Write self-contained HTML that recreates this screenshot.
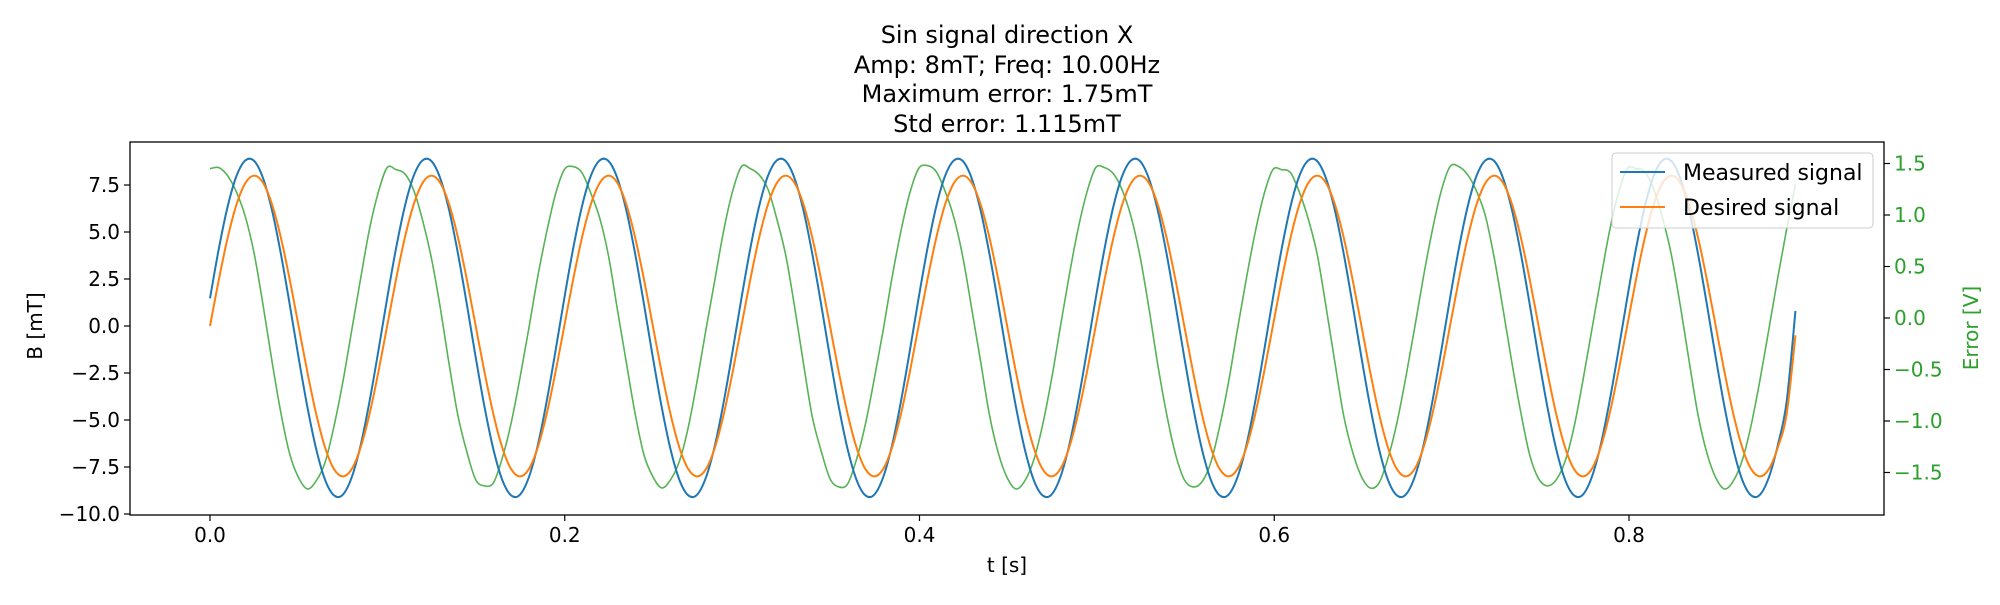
<!DOCTYPE html>
<html><head><meta charset="utf-8"><style>
body{margin:0;background:#fff}
svg text{font-family:"DejaVu Sans","Liberation Sans",sans-serif}
</style></head><body>
<svg id="chart" width="2000" height="600" viewBox="0 0 2000 600" xmlns="http://www.w3.org/2000/svg">
<g font-size="24" text-anchor="middle" fill="#000">
<text x="1007" y="43">Sin signal direction X</text>
<text x="1007" y="73">Amp: 8mT; Freq: 10.00Hz</text>
<text x="1007" y="102">Maximum error: 1.75mT</text>
<text x="1007" y="132">Std error: 1.115mT</text>
</g>
<g id="plot"></g>
<rect x="130" y="142" width="1754" height="373" fill="none" stroke="#000" stroke-width="1.3"/>
<g id="axes" font-size="20"></g>
<text x="1007" y="572" font-size="20" text-anchor="middle">t [s]</text>
<text transform="translate(42,326) rotate(-90)" font-size="20" text-anchor="middle">B [mT]</text>
<text transform="translate(1978,328) rotate(-90)" font-size="20" text-anchor="middle" fill="#2ca02c">Error [V]</text>
<g>
<rect x="1612" y="153" width="261" height="75" rx="4" fill="#fff" fill-opacity="0.8" stroke="#ccc"/>
<line x1="1620" y1="172" x2="1665" y2="172" stroke="#1f77b4" stroke-width="2"/>
<text x="1683" y="180" font-size="22">Measured signal</text>
<line x1="1620" y1="207" x2="1665" y2="207" stroke="#ff7f0e" stroke-width="2"/>
<text x="1683" y="215" font-size="22">Desired signal</text>
</g>
</svg>
<script>
const dt = 0.005;
const xTicks = [0.0, 0.2, 0.4, 0.6, 0.8];
const xTickLabels = ["0.0", "0.2", "0.4", "0.6", "0.8"];
const yTicks = [-10, -7.5, -5, -2.5, 0, 2.5, 5, 7.5];
const yTickLabels = ["\u221210.0", "\u22127.5", "\u22125.0", "\u22122.5", "0.0", "2.5", "5.0", "7.5"];
const y2Ticks = [-1.5, -1, -0.5, 0, 0.5, 1, 1.5];
const y2TickLabels = ["\u22121.5", "\u22121.0", "\u22120.5", "0.0", "0.5", "1.0", "1.5"];
const desired = [
0,2.47,4.70,6.47,7.61,8,7.61,6.47,4.70,2.47,0,-2.47,-4.70,-6.47,-7.61,-8,-7.61,-6.47,-4.70,-2.47,
0,2.47,4.70,6.47,7.61,8,7.61,6.47,4.70,2.47,0,-2.47,-4.70,-6.47,-7.61,-8,-7.61,-6.47,-4.70,-2.47,
0,2.47,4.70,6.47,7.61,8,7.61,6.47,4.70,2.47,0,-2.47,-4.70,-6.47,-7.61,-8,-7.61,-6.47,-4.70,-2.47,
0,2.47,4.70,6.47,7.61,8,7.61,6.47,4.70,2.47,0,-2.47,-4.70,-6.47,-7.61,-8,-7.61,-6.47,-4.70,-2.47,
0,2.47,4.70,6.47,7.61,8,7.61,6.47,4.70,2.47,0,-2.47,-4.70,-6.47,-7.61,-8,-7.61,-6.47,-4.70,-2.47,
0,2.47,4.70,6.47,7.61,8,7.61,6.47,4.70,2.47,0,-2.47,-4.70,-6.47,-7.61,-8,-7.61,-6.47,-4.70,-2.47,
0,2.47,4.70,6.47,7.61,8,7.61,6.47,4.70,2.47,0,-2.47,-4.70,-6.47,-7.61,-8,-7.61,-6.47,-4.70,-2.47,
0,2.47,4.70,6.47,7.61,8,7.61,6.47,4.70,2.47,0,-2.47,-4.70,-6.47,-7.61,-8,-7.61,-6.47,-4.70,-2.47,
0,2.47,4.70,6.47,7.61,8,7.61,6.47,4.70,2.47,0,-2.47,-4.70,-6.47,-7.61,-8,-7.61,-6.47,-4.70,-0.5];
const measured = [
1.47,4.12,6.37,7.99,8.81,8.77,7.85,6.16,3.84,1.15,-1.67,-4.32,-6.57,-8.19,-9.01,-8.97,-8.05,-6.36,-4.04,-1.35,
1.47,4.12,6.37,7.99,8.81,8.77,7.85,6.16,3.84,1.15,-1.67,-4.32,-6.57,-8.19,-9.01,-8.97,-8.05,-6.36,-4.04,-1.35,
1.47,4.12,6.37,7.99,8.81,8.77,7.85,6.16,3.84,1.15,-1.67,-4.32,-6.57,-8.19,-9.01,-8.97,-8.05,-6.36,-4.04,-1.35,
1.47,4.12,6.37,7.99,8.81,8.77,7.85,6.16,3.84,1.15,-1.67,-4.32,-6.57,-8.19,-9.01,-8.97,-8.05,-6.36,-4.04,-1.35,
1.47,4.12,6.37,7.99,8.81,8.77,7.85,6.16,3.84,1.15,-1.67,-4.32,-6.57,-8.19,-9.01,-8.97,-8.05,-6.36,-4.04,-1.35,
1.47,4.12,6.37,7.99,8.81,8.77,7.85,6.16,3.84,1.15,-1.67,-4.32,-6.57,-8.19,-9.01,-8.97,-8.05,-6.36,-4.04,-1.35,
1.47,4.12,6.37,7.99,8.81,8.77,7.85,6.16,3.84,1.15,-1.67,-4.32,-6.57,-8.19,-9.01,-8.97,-8.05,-6.36,-4.04,-1.35,
1.47,4.12,6.37,7.99,8.81,8.77,7.85,6.16,3.84,1.15,-1.67,-4.32,-6.57,-8.19,-9.01,-8.97,-8.05,-6.36,-4.04,-1.35,
1.47,4.12,6.37,7.99,8.81,8.77,7.85,6.16,3.84,1.15,-1.67,-4.32,-6.57,-8.19,-9.01,-8.97,-8.05,-6.36,-4.04,0.8];
const errorV = [
1.45,1.46,1.38,1.22,0.98,0.62,0.12,-0.42,-0.92,-1.32,-1.55,-1.66,-1.58,-1.40,-1.05,-0.62,-0.12,0.38,0.86,1.22,
1.46,1.44,1.40,1.24,0.95,0.58,0.10,-0.45,-0.95,-1.30,-1.57,-1.63,-1.60,-1.36,-1.02,-0.58,-0.10,0.40,0.83,1.20,
1.44,1.47,1.41,1.21,0.97,0.60,0.08,-0.43,-0.93,-1.33,-1.54,-1.65,-1.57,-1.39,-1.06,-0.61,-0.11,0.37,0.85,1.23,
1.47,1.45,1.39,1.25,0.96,0.61,0.11,-0.44,-0.96,-1.29,-1.56,-1.64,-1.61,-1.37,-1.03,-0.59,-0.12,0.39,0.84,1.21,
1.45,1.48,1.42,1.23,0.97,0.59,0.09,-0.42,-0.94,-1.31,-1.55,-1.66,-1.58,-1.38,-1.04,-0.60,-0.09,0.41,0.86,1.22,
1.46,1.46,1.40,1.24,0.98,0.60,0.10,-0.45,-0.93,-1.32,-1.57,-1.64,-1.59,-1.40,-1.05,-0.62,-0.11,0.38,0.83,1.20,
1.44,1.44,1.41,1.22,0.96,0.62,0.11,-0.43,-0.95,-1.30,-1.54,-1.65,-1.60,-1.36,-1.02,-0.58,-0.10,0.40,0.85,1.23,
1.47,1.47,1.39,1.23,0.99,0.58,0.08,-0.44,-0.92,-1.33,-1.56,-1.63,-1.57,-1.39,-1.06,-0.61,-0.12,0.37,0.84,1.21,
1.45,1.45,1.42,1.25,0.97,0.61,0.12,-0.42,-0.94,-1.31,-1.55,-1.66,-1.58,-1.38,-1.04,-0.60,-0.11,0.39,0.86,1.30];

const NS = "http://www.w3.org/2000/svg";
function xs(t){ return 210 + t * 1773.75; }
function ys(v){ return 326 - v * 18.8; }
function ys2(v){ return 318 - v * 103; }
function mk(tag, attrs, parent){
  const e = document.createElementNS(NS, tag);
  for (const k in attrs) e.setAttribute(k, attrs[k]);
  parent.appendChild(e); return e;
}
function smoothPath(vals, yf){
  const p = vals.map((v,i)=>[xs(i*dt*0.9987), yf(v)]);
  let d = "M" + p[0][0].toFixed(2) + "," + p[0][1].toFixed(2);
  for (let i=0;i<p.length-1;i++){
    const p0=p[Math.max(0,i-1)], p1=p[i], p2=p[i+1], p3=p[Math.min(p.length-1,i+2)];
    const c1=[p1[0]+(p2[0]-p0[0])/6, p1[1]+(p2[1]-p0[1])/6];
    const c2=[p2[0]-(p3[0]-p1[0])/6, p2[1]-(p3[1]-p1[1])/6];
    d += "C"+c1[0].toFixed(2)+","+c1[1].toFixed(2)+" "+c2[0].toFixed(2)+","+c2[1].toFixed(2)+" "+p2[0].toFixed(2)+","+p2[1].toFixed(2);
  }
  return d;
}
const plot = document.getElementById("plot");
const ax = document.getElementById("axes");

const g1 = mk("path", {d: smoothPath(errorV, ys2), fill:"none", stroke:"#2ca02c", "stroke-width":1.6, "stroke-opacity":0.8}, plot);


const m1 = mk("path", {d: smoothPath(measured, ys), fill:"none", stroke:"#1f77b4", "stroke-width":2}, plot);


const d1 = mk("path", {d: smoothPath(desired, ys), fill:"none", stroke:"#ff7f0e", "stroke-width":2}, plot);



xTicks.forEach((t,i)=>{
  const x = xs(t);
  const l = mk("line", {x1:x, y1:515, x2:x, y2:521, stroke:"#000", "stroke-width":1.2}, ax);
  
  
  const tx = mk("text", {x:x, y:542, "text-anchor":"middle"}, ax);
  tx.textContent = xTickLabels[i];
  
  
});
yTicks.forEach((v,i)=>{
  const y = ys(v);
  const l = mk("line", {x1:124, y1:y, x2:130, y2:y, stroke:"#000", "stroke-width":1.2}, ax);
  
  
  const tx = mk("text", {x:120, y:y+7, "text-anchor":"end"}, ax);
  tx.textContent = yTickLabels[i];
  
  
});
y2Ticks.forEach((v,i)=>{
  const y = ys2(v);
  const l = mk("line", {x1:1884, y1:y, x2:1890, y2:y, stroke:"#000", "stroke-width":1.2}, ax);
  
  
  const tx = mk("text", {x:1894, y:y+7, fill:"#2ca02c"}, ax);
  tx.textContent = y2TickLabels[i];
  
  
});
</script>
</body></html>
